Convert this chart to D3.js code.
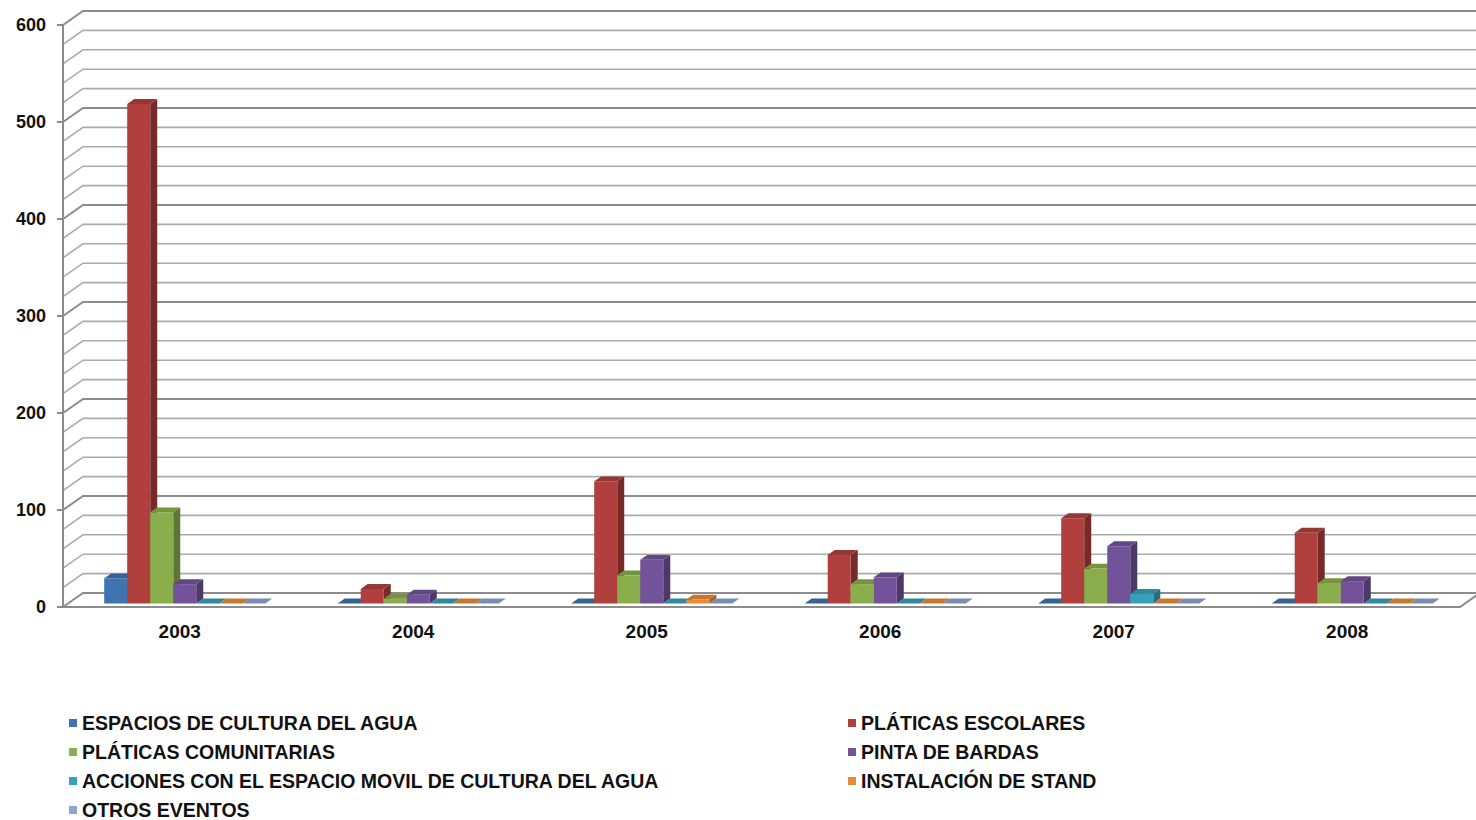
<!DOCTYPE html>
<html>
<head>
<meta charset="utf-8">
<script src="https://cdn.jsdelivr.net/npm/d3@7"></script>
<style>
  body { margin: 0; background: #fff; }
  text { font-family: "Liberation Sans", Arial, sans-serif; font-weight: bold; fill: #111; }
</style>
</head>
<body>
<div id="chart"></div>
<script>
var years  = ["2003", "2004", "2005", "2006", "2007", "2008"];
var series = ["ESPACIOS DE CULTURA DEL AGUA", "PLÁTICAS ESCOLARES", "PLÁTICAS COMUNITARIAS",
              "PINTA DE BARDAS", "ACCIONES CON EL ESPACIO MOVIL DE CULTURA DEL AGUA",
              "INSTALACIÓN DE STAND", "OTROS EVENTOS"];
var colors = ["#3F74B0", "#B0403D", "#8AAE4B", "#72539A", "#37A0B9", "#E98A36", "#8EA6D2"];

// values per series, one per year
var espacios     = [26, 0, 0, 0, 0, 0];
var escolares    = [515, 15, 126, 50, 88, 73];
var comunitarias = [94, 5, 29, 20, 36, 21];
var bardas       = [20, 9, 45, 27, 59, 23];
var acciones     = [0, 0, 0, 0, 10, 0];
var stand        = [0, 0, 4, 0, 0, 0];
var otros        = [0, 0, 0, 0, 0, 0];
var values = [espacios, escolares, comunitarias, bardas, acciones, stand, otros];
var yTicks = [0, 100, 200, 300, 400, 500, 600];

var W = 1476, H = 820;
var depth = {dx: 20, dy: -14};   // offset of back wall
var zFront = 0.25, zBack = 0.6;  // bar depth inside the floor

var svg = d3.select("#chart").append("svg")
  .attr("width", W).attr("height", H);

var x0 = d3.scaleBand().domain(years).range([63, 1464]).paddingInner(0.31).paddingOuter(0.155);
var x1 = d3.scaleBand().domain(d3.range(series.length)).range([0, x0.bandwidth()]);
var y  = d3.scaleLinear().domain([0, 600]).range([607, 25]);

function P(x, v, z) {
  return [x + z * depth.dx, y(v) + z * depth.dy];
}
function poly(pts) { return "M" + pts.map(function(p) { return p.join(","); }).join("L") + "Z"; }

// walls
var grid = svg.append("g");
d3.range(0, 601, 20).forEach(function(v) {
  var major = v % 100 === 0;
  var a = P(63, v, 0), b = P(63, v, 1);
  grid.append("path")
    .attr("d", "M" + a + "L" + b + "L" + [W + 5, b[1]])
    .attr("fill", "none")
    .attr("stroke", major ? "#8c8c8c" : "#ababab")
    .attr("stroke-width", major ? 2 : 1.6);
});

// floor
var f0 = P(63, 0, 0), f1 = P(1460, 0, 0), f2 = P(1460, 0, 1);
svg.append("path")
  .attr("d", "M" + f0 + "L" + f1 + "L" + f2)
  .attr("fill", "none").attr("stroke", "#8c8c8c").attr("stroke-width", 2);

// y axis
svg.append("line").attr("x1", 63).attr("x2", 63).attr("y1", y(600)).attr("y2", y(0))
  .attr("stroke", "#8c8c8c").attr("stroke-width", 2);
yTicks.forEach(function(t) {
  svg.append("line").attr("x1", 57).attr("x2", 63).attr("y1", y(t)).attr("y2", y(t))
    .attr("stroke", "#8c8c8c").attr("stroke-width", 2);
  svg.append("text").attr("x", 46).attr("y", y(t)).attr("dy", "0.35em")
    .attr("text-anchor", "end").style("font-size", "18px").text(t);
});

// bars
var bars = svg.append("g");
years.forEach(function(yr, i) {
  series.forEach(function(s, j) {
    var v = values[j][i];
    var xl = x0(yr) + x1(j), xr = xl + x1.bandwidth();
    var c = d3.color(colors[j]);
    var top  = [P(xl, v, zFront), P(xr, v, zFront), P(xr, v, zBack), P(xl, v, zBack)];
    var front = [P(xl, 0, zFront), P(xr, 0, zFront), P(xr, v, zFront), P(xl, v, zFront)];
    var side = [P(xr, 0, zFront), P(xr, 0, zBack), P(xr, v, zBack), P(xr, v, zFront)];
    if (v > 0) {
      bars.append("path").attr("d", poly(side)).attr("fill", c.darker(1.1));
      bars.append("path").attr("d", poly(front)).attr("fill", c);
    }
    bars.append("path").attr("d", poly(top)).attr("fill", c.darker(0.45));
  });
});

// x labels
years.forEach(function(yr) {
  svg.append("text").attr("x", x0(yr) + x0.bandwidth() / 2).attr("y", 638)
    .attr("text-anchor", "middle").style("font-size", "19px").text(yr);
});

// legend
var legend = svg.append("g");
series.forEach(function(s, j) {
  var col = j % 2, row = Math.floor(j / 2);
  var lx = col === 0 ? 69 : 848, ly = 723 + row * 29;
  legend.append("rect").attr("x", lx).attr("y", ly - 4).attr("width", 8).attr("height", 8)
    .attr("fill", colors[j]);
  legend.append("text").attr("x", lx + 13).attr("y", ly).attr("dy", "0.35em")
    .style("font-size", "19.5px").text(s);
});
</script>
</body>
</html>
